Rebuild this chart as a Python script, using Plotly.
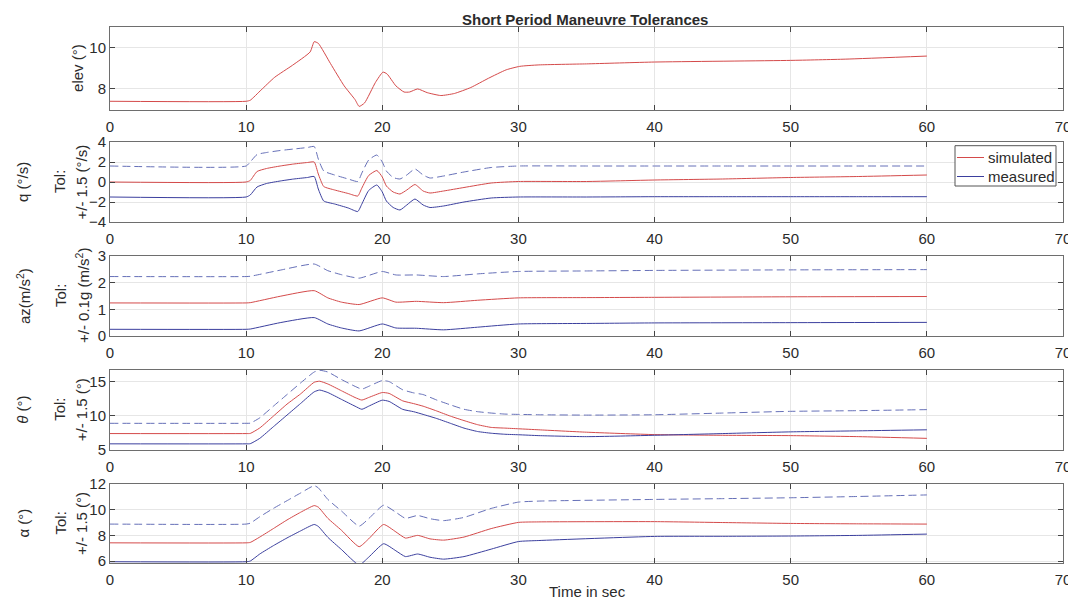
import plotly.graph_objects as go

# ---------------- data ----------------
t_elev = [0, 10, 10.3, 11.1, 12.1, 13.4, 14.7, 15.0, 15.3, 16.2, 17.2, 18.0, 18.3, 18.7, 19.5,
          20.05, 20.35, 21.0, 21.6, 22.0, 22.6, 23.3, 24.3, 25.3, 26.5, 27.8, 29.1, 30.1, 31.5,
          35, 40, 50, 54, 60]
elev_sim = [7.4, 7.4, 7.45, 7.95, 8.57, 9.15, 9.8, 10.3, 10.22, 9.23, 8.15, 7.48, 7.15, 7.32, 8.32,
            8.82, 8.73, 8.15, 7.85, 7.85, 8.0, 7.82, 7.68, 7.78, 8.07, 8.52, 8.93, 9.1, 9.17,
            9.22, 9.31, 9.39, 9.45, 9.6]

t_q = [0, 10, 10.3, 10.8, 11.5, 12.5, 13.5, 14.5, 15, 15.3, 15.7, 16.5, 17.5, 18.2, 18.5, 19,
       19.6, 20, 20.3, 20.8, 21.3, 21.8, 22.4, 23, 23.5, 24.5, 26, 28, 30, 35, 40, 45, 50, 55, 60]
q_sim = [0, 0, 0.15, 1.05, 1.35, 1.6, 1.8, 1.95, 2.0, 0.8, -0.45, -0.8, -1.15, -1.4, -0.6, 0.65,
         1.15, 0.5, -0.4, -1.0, -1.2, -0.8, -0.25, -0.9, -1.1, -0.9, -0.55, -0.1, 0.05, 0.05, 0.2,
         0.3, 0.45, 0.55, 0.7]
q_low = [-1.5, -1.5, -1.3, -0.5, -0.15, 0.1, 0.3, 0.45, 0.55, -0.7, -1.9, -2.2, -2.6, -2.95, -2.2,
         -0.85, -0.3, -1.0, -1.9, -2.55, -2.8, -2.3, -1.7, -2.3, -2.55, -2.4, -2.0, -1.6, -1.5,
         -1.5, -1.47, -1.47, -1.47, -1.47, -1.47]
q_up = [1.6, 1.6, 2.0, 2.75, 2.95, 3.15, 3.3, 3.45, 3.55, 2.3, 1.1, 0.7, 0.3, 0.05, 0.9, 2.2,
        2.7, 2.0, 1.1, 0.45, 0.3, 0.7, 1.3, 0.7, 0.4, 0.6, 1.0, 1.45, 1.6, 1.6, 1.6, 1.6, 1.6,
        1.6, 1.6]

t_az = [0, 10, 10.3, 12.5, 15, 16, 17, 18.3, 20, 21, 22.5, 24.5, 27, 30, 35, 40, 50, 60]
az_sim = [1.24, 1.24, 1.25, 1.49, 1.7, 1.43, 1.27, 1.18, 1.43, 1.27, 1.3, 1.25, 1.34, 1.43, 1.44,
          1.45, 1.47, 1.48]
az_low = [0.25, 0.25, 0.26, 0.5, 0.69, 0.45, 0.3, 0.19, 0.45, 0.3, 0.29, 0.23, 0.33, 0.45, 0.47,
          0.49, 0.5, 0.51]
az_up = [2.23, 2.23, 2.24, 2.47, 2.7, 2.45, 2.3, 2.17, 2.42, 2.29, 2.29, 2.23, 2.33, 2.42, 2.44,
         2.46, 2.48, 2.49]

t_th = [0, 10, 10.3, 11, 12, 13, 14, 15, 15.4, 16, 17, 18, 18.5, 19, 20, 20.5, 21.5, 22.3, 23, 24,
        25, 26, 27, 28, 29, 30, 31.5, 35, 40, 45, 50, 55, 60]
th_sim = [7.4, 7.4, 7.42, 8.22, 9.95, 11.7, 13.2, 14.9, 15.05, 14.65, 13.66, 12.67, 12.3, 12.67,
          13.4, 13.27, 12.18, 11.78, 11.4, 10.7, 9.95, 9.3, 8.7, 8.3, 8.2, 8.1, 7.95, 7.6, 7.25,
          7.15, 7.1, 6.95, 6.7]
th_low = [5.9, 5.9, 5.92, 6.7, 8.4, 10.1, 11.8, 13.5, 13.76, 13.4, 12.4, 11.4, 10.95, 11.4, 12.28,
          12.1, 10.94, 10.6, 10.2, 9.6, 8.9, 8.2, 7.7, 7.45, 7.3, 7.23, 7.1, 6.95, 7.15, 7.4, 7.65,
          7.8, 7.95]
th_up = [8.9, 8.9, 8.92, 9.7, 11.4, 13.1, 14.8, 16.4, 16.65, 16.4, 15.3, 14.3, 13.9, 14.3, 15.15,
         15.0, 13.8, 13.35, 13.1, 12.3, 11.6, 10.95, 10.6, 10.4, 10.25, 10.2, 10.15, 10.1, 10.15,
         10.4, 10.65, 10.75, 10.9]

t_al = [0, 10, 10.3, 11, 12, 13, 14, 15, 15.3, 16, 17, 18.3, 19, 20.1, 21, 21.7, 22.6, 23.5, 24.5,
        26, 28, 30, 31.5, 40, 45, 50, 55, 60]
al_sim = [7.42, 7.42, 7.45, 7.87, 8.53, 9.2, 9.8, 10.32, 10.2, 9.33, 8.4, 7.12, 7.73, 8.85, 8.27,
          7.79, 8.0, 7.73, 7.63, 7.87, 8.53, 9.01, 9.05, 9.07, 9.0, 8.93, 8.9, 8.88]
al_low = [5.95, 5.95, 6.0, 6.55, 7.2, 7.8, 8.35, 8.85, 8.7, 7.85, 6.9, 5.7, 6.3, 7.35, 6.8, 6.35,
          6.55, 6.3, 6.15, 6.35, 6.93, 7.52, 7.6, 7.92, 7.93, 7.95, 8.0, 8.1]
al_up = [8.88, 8.88, 8.95, 9.45, 10.1, 10.7, 11.3, 11.87, 11.7, 10.8, 9.9, 8.72, 9.3, 10.35, 9.8,
         9.33, 9.55, 9.3, 9.15, 9.4, 10.1, 10.59, 10.67, 10.8, 10.86, 10.93, 11.03, 11.15]

x_ticks = [0, 10, 20, 30, 40, 50, 60, 70]
title_text = "Short Period Maneuvre Tolerances"
legend_names = ["simulated", "measured"]

# ---------------- styling ----------------
OFF = 8                      # page body margin of the html page
W, H = 1076 - OFF, 604 - OFF
RED = "#d44a4a"
BLUE = "#3b3f9e"
DASH = "#6670b8"
DASHPAT = "8px,4px"
FONT = "Liberation Sans, Arial, Helvetica, sans-serif"
TXT = "#2b2b2b"
FS = 15


def fx(p):
    return (p - OFF) / W


def fy(p):
    return 1 - (p - OFF) / H


x_dom = [fx(110), fx(1063)]
# panel top/bottom in page pixels
panels_px = [(27.3, 109.5), (142, 222), (256, 336), (369.6, 450), (484, 563)]
y_ranges = [[7, 11], [-4.001, 4.001], [-0.001, 3.001], [4.999, 16.75], [5.85, 12.001]]
y_dticks = [2, 2, 1, 5, 2]

fig = go.Figure()


def add(ax, t, y, color, dash="solid", name=None):
    fig.add_trace(go.Scatter(
        x=t, y=y, mode="lines", name=name, showlegend=False,
        line=dict(color=color, width=1, dash=dash, shape="spline", smoothing=0.5),
        xaxis="x" if ax == 1 else f"x{ax}", yaxis="y" if ax == 1 else f"y{ax}",
        hoverinfo="skip"))


add(1, t_elev, elev_sim, RED, name=legend_names[0])

add(2, t_q, q_sim, RED, name=legend_names[0])
add(2, t_q, q_low, BLUE, name=legend_names[1])
add(2, t_q, q_up, DASH, dash=DASHPAT)

add(3, t_az, az_sim, RED)
add(3, t_az, az_low, BLUE)
add(3, t_az, az_up, DASH, dash=DASHPAT)

add(4, t_th, th_sim, RED)
add(4, t_th, th_low, BLUE)
add(4, t_th, th_up, DASH, dash=DASHPAT)

add(5, t_al, al_sim, RED)
add(5, t_al, al_low, BLUE)
add(5, t_al, al_up, DASH, dash=DASHPAT)

layout = dict(
    template="none",
    width=W, height=H, autosize=False,
    margin=dict(l=0, r=0, t=0, b=0, pad=0, autoexpand=False),
    paper_bgcolor="white", plot_bgcolor="white",
    font=dict(family=FONT, size=FS, color=TXT),
    showlegend=False,
)

for i, ((top, bot), yr, dt) in enumerate(zip(panels_px, y_ranges, y_dticks), start=1):
    sfx = "" if i == 1 else str(i)
    layout[f"xaxis{sfx}"] = dict(
        domain=x_dom, anchor=f"y{sfx}", range=[0, 70], tickvals=x_ticks,
        ticktext=[str(v) for v in x_ticks], automargin=False,
        showgrid=True, gridcolor="#e6e6e6", gridwidth=1,
        showline=True, linecolor="#6e6e6e", linewidth=1, mirror="ticks",
        ticks="inside", ticklen=5, tickcolor="#444", zeroline=False,
        tickfont=dict(size=FS, color=TXT), ticklabelstandoff=3)
    layout[f"yaxis{sfx}"] = dict(
        domain=[fy(bot), fy(top)], anchor=f"x{sfx}", range=yr, dtick=dt, tick0=0,
        automargin=False,
        showgrid=True, gridcolor="#e6e6e6", gridwidth=1,
        showline=True, linecolor="#6e6e6e", linewidth=1, mirror="ticks",
        ticks="inside", ticklen=5, tickcolor="#444", zeroline=False,
        tickfont=dict(size=FS, color=TXT))

fig.update_layout(**layout)


def ann(text, xpx, ypx, angle=-90, size=FS, xanchor="center", yanchor="middle"):
    fig.add_annotation(text=text, x=fx(xpx), y=fy(ypx), xref="paper", yref="paper",
                       showarrow=False, textangle=angle, font=dict(size=size, color=TXT),
                       xanchor=xanchor, yanchor=yanchor)


centers = [(a + b) / 2 for a, b in panels_px]
ann("elev (°)", 77.5, centers[0])
ann("q (°/s)", 23, centers[1])
ann("Tol:", 60, centers[1])
ann("+/- 1.5 (°/s)", 81.5, centers[1])
ann("az(m/s<sup>2</sup>)", 23, centers[2])
ann("Tol:", 60, centers[2])
ann("+/- 0.1g (m/s<sup>2</sup>)", 82, centers[2])
ann("<i>θ</i> (°)", 23, centers[3])
ann("Tol:", 60, centers[3])
ann("+/- 1.5 (°)", 81.5, centers[3])
ann("α (°)", 23, centers[4])
ann("Tol:", 60, centers[4])
ann("+/- 1.5 (°)", 81.5, centers[4])

ann("<b>" + title_text + "</b>", 585, 8.5, angle=0, size=15, yanchor="top")
ann("Time in sec", 587, 591, angle=0, size=FS)

# legend box (inside the q panel), drawn in paper coordinates
box = dict(x0=fx(955), x1=fx(1056), y0=fy(186), y1=fy(145.7))
fig.add_shape(type="rect", xref="paper", yref="paper", **box,
              line=dict(color="#555", width=1), fillcolor="white", layer="above")
for name, col, ypx in [(legend_names[0], RED, 157.5), (legend_names[1], BLUE, 176.5)]:
    fig.add_shape(type="line", xref="paper", yref="paper", x0=fx(957), x1=fx(984),
                  y0=fy(ypx), y1=fy(ypx), line=dict(color=col, width=1), layer="above")
    ann(name, 985.5, ypx, angle=0, size=FS, xanchor="left")

fig.write_html("out.html")
